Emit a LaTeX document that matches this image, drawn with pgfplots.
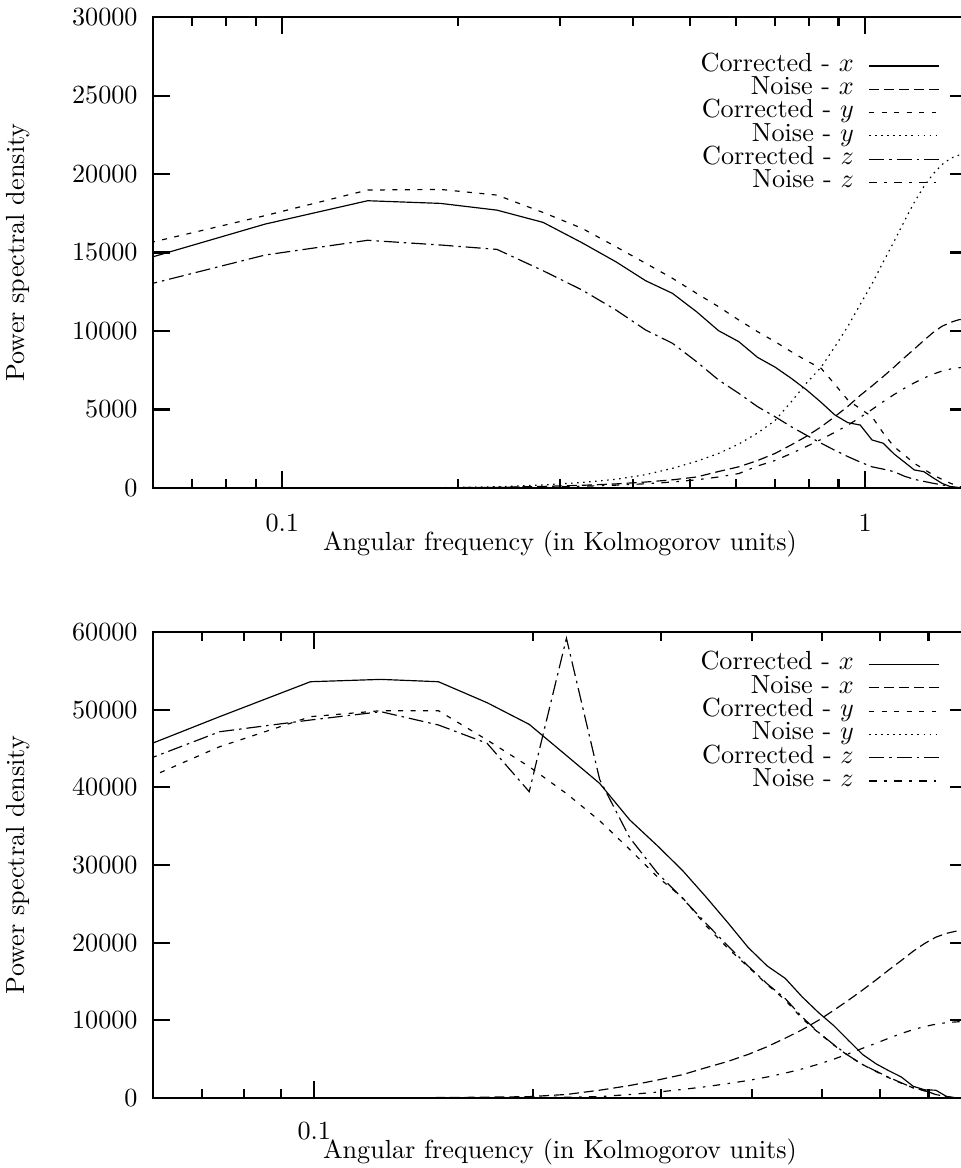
\documentclass[border=0pt]{standalone}
\usepackage{pgfplots}
\pgfplotsset{compat=1.18}
\usepackage{pgfplotstable}

% Spectra, upper panel: w = angular frequency, c* = corrected, n* = noise
\pgfplotstableread{
w      cx     nx     cy     ny     cz     nz
0.0467 13550  0      14720  0      12020  0
0.0934 16810  0      17350  0      14840  0
0.1401 18300  5      18980  5      15780  5
0.1868 18130  15     19020  20     15480  10
0.2335 17700  40     18660  80     15200  30
0.2802 16920  100    17550  190    13840  60
0.3269 15620  170    16540  350    12610  110
0.3736 14410  260    15370  550    11340  180
0.4203 13200  380    14310  850    10060  270
0.4670 12400  520    13360  1250   9220   380
0.5137 11230  700    12400  1700   8050   520
0.5604 10020  1050   11550  2200   6880   700
0.6071 9320   1350   10700  2800   6030   920
0.6538 8320   1750   9960   3500   5180   1400
0.7005 7700   2200   9320   4300   4540   1750
0.7472 6980   2750   8680   5500   3900   2200
0.7939 6240   3300   8100   6700   3350   2650
0.8406 5450   3900   7620   7700   2850   3100
0.8873 4650   4550   6600   9000   2400   3550
0.9340 4160   5200   5600   10300  2000   4000
0.9807 4010   5900   5050   11700  1650   4500
1.0274 3060   6500   4540   13000  1350   5000
1.0741 2850   7100   3500   14400  1200   5500
1.1208 2170   7700   2630   15700  1040   5950
1.1675 1650   8300   2100   17000  750    6350
1.2142 1150   8850   1570   18200  550    6700
1.2609 1040   9400   1200   19200  420    7000
1.3076 650    9900   830    20000  300    7250
1.3543 300    10300  550    20600  200    7450
1.4010 80     10550  300    21000  90     7580
1.4477 0      10720  100    21200  30     7660
1.4944 0      10800  0      21300  0      7700
}\topdata

% Spectra, lower panel
\pgfplotstableread{
w      cx     nx     cy     ny     cz     nz
0.0494 42580  0      38060  0      40840  0
0.0741 49100  0      45230  0      47160  0
0.0988 53600  10     49100  0      48670  0
0.1235 53900  20     49870  0      49740  5
0.1482 53600  50     49870  0      48030  10
0.1729 50900  100    46100  0      45670  20
0.1976 48110  170    42660  0      39440  50
0.2223 44100  450    39200  0      59200  100
0.2470 40500  1000   35700  0      41000  170
0.2717 35800  1600   32000  0      33500  450
0.2964 32500  2300   28500  0      29000  750
0.3211 29300  3000   25800  0      25700  1100
0.3458 25900  3900   22200  0      22500  1450
0.3705 22600  4700   19300  0      19600  1850
0.3952 19400  5600   16900  0      17000  2250
0.4199 17000  6600   14600  0      14700  2700
0.4446 15400  7700   12600  0      12800  3200
0.4693 13000  8800   10200  0      10400  3750
0.4940 11000  10000  8400   0      8450   4350
0.5187 9300   11300  6800   0      6850   5000
0.5434 7400   12600  5400   0      5450   5700
0.5681 5600   13900  4300   0      4300   6400
0.5928 4400   15200  3400   0      3450   7050
0.6175 3500   16500  2600   0      2650   7700
0.6422 2700   17700  1900   0      1950   8300
0.6669 1500   18900  1300   0      1300   8800
0.6916 1050   19900  900    0      950    9200
0.7163 1000   20700  450    0      450    9500
0.7410 200    21200  150    0      150    9700
0.7657 0      21500  0      0      0      9800
0.7904 0      21650  0      0      0      9850
}\botdata

% gnuplot-like line types
\tikzset{
  lineCX/.style={black, line width=0.45pt, solid},
  lineNX/.style={black, line width=0.45pt, dash pattern=on 3.8pt off 1.9pt},
  lineCY/.style={black, line width=0.45pt, dash pattern=on 1.9pt off 2.85pt},
  lineNY/.style={black, line width=0.45pt, dash pattern=on 0.6pt off 1.7pt},
  lineCZ/.style={black, line width=0.45pt, dash pattern=on 5.7pt off 1.9pt on 0.95pt off 1.9pt},
  lineNZ/.style={black, line width=0.45pt, dash pattern=on 2.85pt off 2.85pt on 0.95pt off 2.85pt},
}

\begin{document}
\begin{tikzpicture}
\begin{axis}[
    xmode=log, scale only axis, width=310.9pt, height=179.9pt,
    at={(58.45pt,-186.42pt)}, anchor=south west,
    xmin=0.06, xmax=1.4944, ymin=0, ymax=30000,
    axis line style={line width=0.9pt},
    major tick style={black, line width=0.8pt},
    minor tick style={black, line width=0.8pt},
    major tick length=6.5pt, minor tick length=3.3pt,
    tick align=inside,
    scaled y ticks=false,
    ytick={0,5000,10000,15000,20000,25000,30000},
    yticklabels={0,5000,10000,15000,20000,25000,30000},
    yticklabel style={inner sep=0pt, xshift=-5.7pt},
    xtick={0.1,1}, xticklabels={0.1,1},
    minor xtick={0.07,0.08,0.09,0.2,0.3,0.4,0.5,0.6,0.7,0.8,0.9},
    xticklabel style={inner sep=0pt, yshift=-9.8pt},
    xlabel={Angular frequency (in Kolmogorov units)},
    ylabel={Power spectral density},
    xlabel style={at={(rel axis cs:0.5,0)}, anchor=center, yshift=-21.4pt},
    ylabel style={at={(rel axis cs:0,0.5)}, anchor=center, yshift=51.6pt},
    legend plot pos=right, legend cell align=right,
    legend image code/.code={\draw[#1] (0pt,0pt) -- (26.7pt,0pt);},
    legend style={draw=none, fill=none, inner sep=0pt, outer sep=0pt,
      row sep=0pt, column sep=5.7pt, anchor=north east,
      at={(axis description cs:0.9668,0.921)},
      nodes={inner sep=0pt, text height=6.5pt, text depth=2.4pt}},
  ]
  \addplot[lineCX] table[x=w, y=cx] {\topdata};
  \addlegendentry{Corrected - $x$}
  \addplot[lineNX] table[x=w, y=nx] {\topdata};
  \addlegendentry{Noise - $x$}
  \addplot[lineCY] table[x=w, y=cy] {\topdata};
  \addlegendentry{Corrected - $y$}
  \addplot[lineNY] table[x=w, y=ny] {\topdata};
  \addlegendentry{Noise - $y$}
  \addplot[lineCZ] table[x=w, y=cz] {\topdata};
  \addlegendentry{Corrected - $z$}
  \addplot[lineNZ] table[x=w, y=nz] {\topdata};
  \addlegendentry{Noise - $z$}
\end{axis}

\begin{axis}[
    xmode=log, scale only axis, width=310.9pt, height=178pt,
    at={(58.45pt,-419.44pt)}, anchor=south west,
    xmin=0.06, xmax=0.7904, ymin=0, ymax=60000,
    axis line style={line width=0.9pt},
    major tick style={black, line width=0.8pt},
    minor tick style={black, line width=0.8pt},
    major tick length=6.5pt, minor tick length=3.3pt,
    tick align=inside,
    scaled y ticks=false,
    ytick={0,10000,20000,30000,40000,50000,60000},
    yticklabels={0,10000,20000,30000,40000,50000,60000},
    yticklabel style={inner sep=0pt, xshift=-5.7pt},
    xtick={0.1}, xticklabels={0.1},
    minor xtick={0.07,0.08,0.09,0.2,0.3,0.4,0.5,0.6,0.7},
    xticklabel style={inner sep=0pt, yshift=-9.0pt},
    xlabel={Angular frequency (in Kolmogorov units)},
    ylabel={Power spectral density},
    xlabel style={at={(rel axis cs:0.5,0)}, anchor=center, yshift=-20.6pt},
    ylabel style={at={(rel axis cs:0,0.5)}, anchor=center, yshift=51.6pt},
    legend plot pos=right, legend cell align=right,
    legend image code/.code={\draw[#1] (0pt,0pt) -- (26.7pt,0pt);},
    legend style={draw=none, fill=none, inner sep=0pt, outer sep=0pt,
      row sep=0pt, column sep=5.7pt, anchor=north east,
      at={(axis description cs:0.9668,0.9553)},
      nodes={inner sep=0pt, text height=6.5pt, text depth=2.4pt}},
  ]
  \addplot[lineCX] table[x=w, y=cx] {\botdata};
  \addlegendentry{Corrected - $x$}
  \addplot[lineNX] table[x=w, y=nx] {\botdata};
  \addlegendentry{Noise - $x$}
  \addplot[lineCY] table[x=w, y=cy] {\botdata};
  \addlegendentry{Corrected - $y$}
  \addplot[lineNY] table[x=w, y=ny] {\botdata};
  \addlegendentry{Noise - $y$}
  \addplot[lineCZ] table[x=w, y=cz] {\botdata};
  \addlegendentry{Corrected - $z$}
  \addplot[lineNZ] table[x=w, y=nz] {\botdata};
  \addlegendentry{Noise - $z$}
\end{axis}
\pgfresetboundingbox
\path[use as bounding box] (0pt,0pt) rectangle (367.1pt,-446.2pt);
\end{tikzpicture}
\end{document}
